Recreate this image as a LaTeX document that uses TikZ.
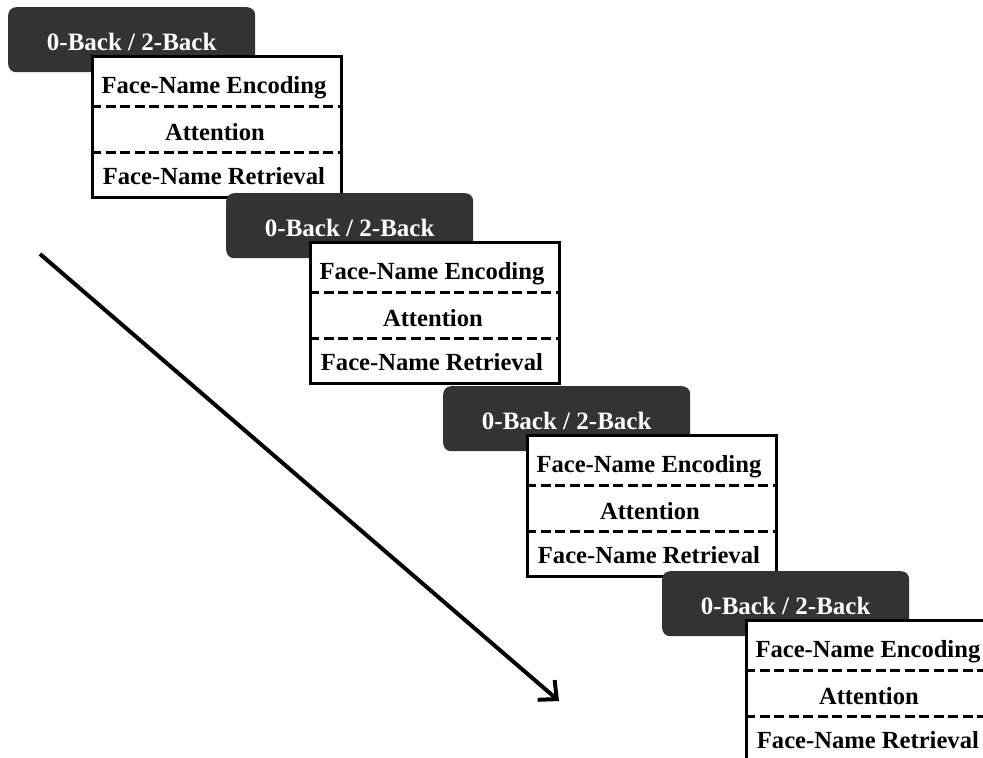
\documentclass[tikz,border=0pt]{standalone}
\usepackage{fontspec}
\setmainfont{Liberation Serif}
\usetikzlibrary{arrows.meta}
\definecolor{boxgray}{HTML}{333333}
\begin{document}
\begin{tikzpicture}[x=1pt,y=-1pt,
  darkbox/.style={fill=boxgray, draw=none, rounded corners=8pt, minimum width=247pt, minimum height=65pt, inner sep=0pt, anchor=north west},
  whitebox/.style={fill=white, draw=black, line width=2.8pt, minimum width=249pt, minimum height=141pt, inner sep=0pt, anchor=north west},
  rowline/.style={draw=black, line width=3pt, dash pattern=on 10pt off 4.5pt},
  headtext/.style={text=white, font=\fontsize{25}{30}\selectfont\bfseries, inner sep=0pt},
  celltext/.style={text=black, font=\fontsize{24.6}{30}\selectfont\bfseries, inner sep=0pt},
  flowarrow/.style={line width=4pt, -{Straight Barb[length=14pt,width=26pt]}}]
\useasboundingbox (0,0) rectangle (983,758);
\fill[white] (0,0) rectangle (983,758);
\foreach \x/\y/\i in {8/7/1, 226/193/2, 443/386/3, 662/571/4} {
  \node[darkbox] (d\i) at (\x,\y) {};
  \node[headtext] (h\i) at ([yshift=-2pt]d\i.center) {0-Back / 2-Back};
  \node[whitebox] (w\i) at (\x+83,\y+48) {};
  \draw[rowline] ([yshift=-51pt]w\i.north west) -- ([yshift=-51pt]w\i.north east);
  \draw[rowline] ([yshift=-97pt]w\i.north west) -- ([yshift=-97pt]w\i.north east);
  \node[celltext] (e\i) at ([xshift=-3pt,yshift=-33pt]w\i.north) {Face-Name Encoding};
  \node[celltext] (a\i) at ([xshift=-2pt,yshift=-77pt]w\i.north) {Attention};
  \node[celltext] (r\i) at ([xshift=-3pt,yshift=-121pt]w\i.north) {Face-Name Retrieval};
}
\coordinate (s) at (40,254);
\coordinate (t) at (559,701);
\draw[flowarrow] (s) -- (t);
\end{tikzpicture}
\end{document}
